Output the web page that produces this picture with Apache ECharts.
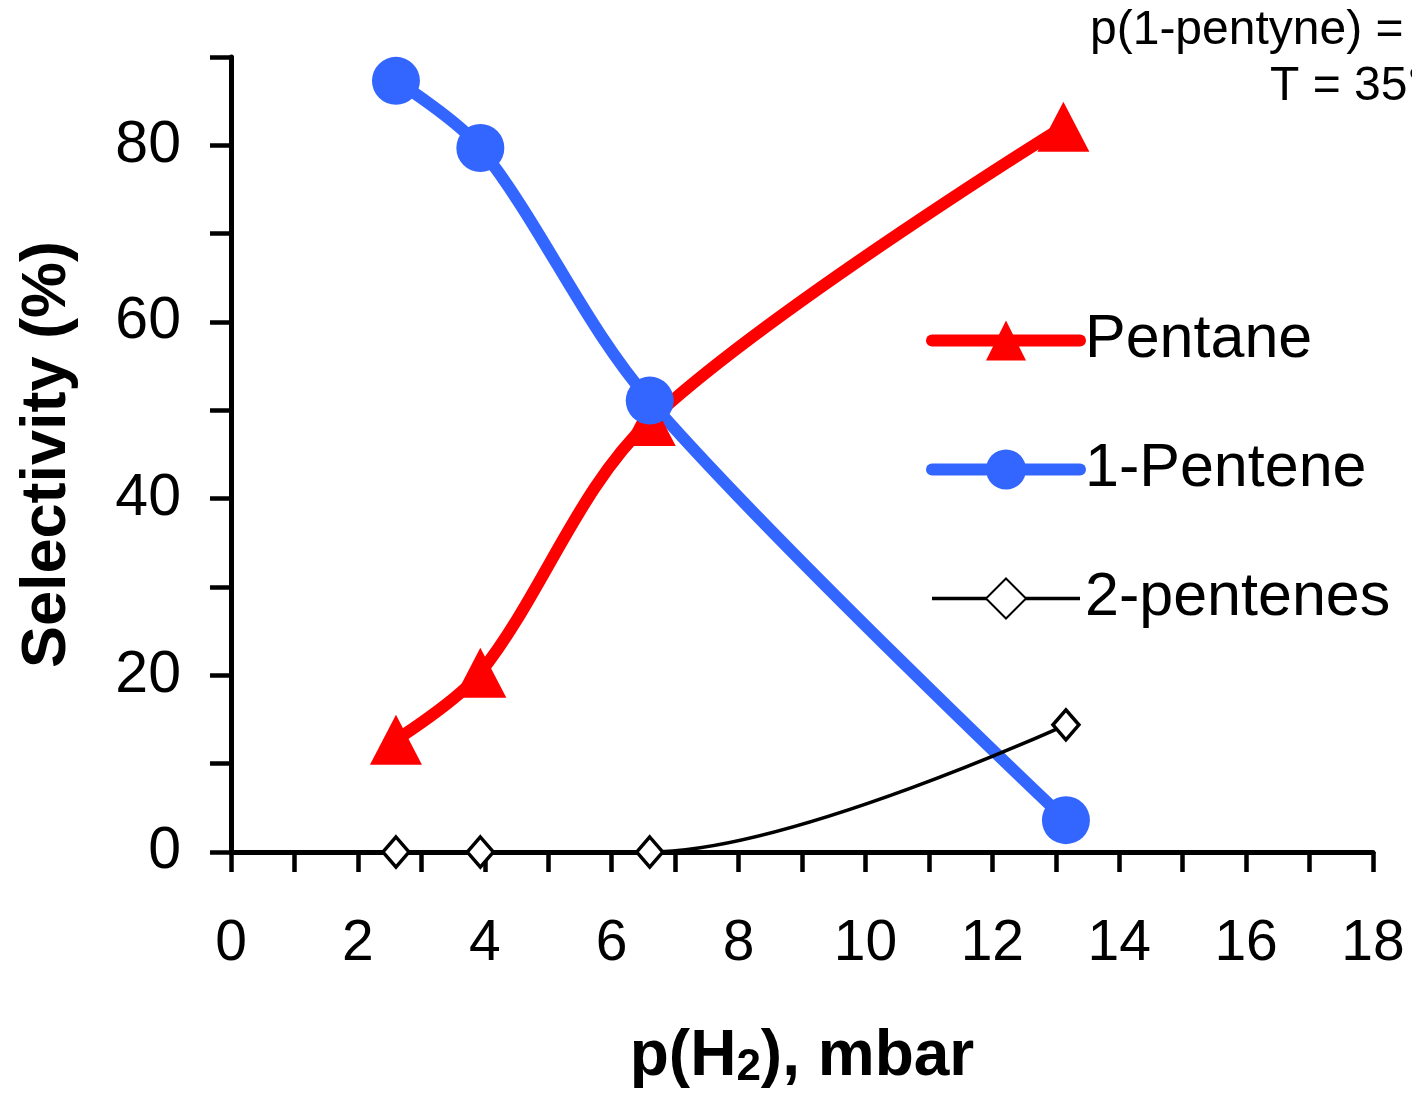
<!DOCTYPE html>
<html>
<head>
<meta charset="utf-8">
<script src="https://cdn.jsdelivr.net/npm/echarts@6/dist/echarts.min.js"></script>
<style>html,body{margin:0;padding:0;background:#fff;}#c{width:1412px;height:1096px;}</style>
</head>
<body>
<div id="c"></div>
<script>
// ---- data ----
const pH2_pentane = [2.6, 3.93, 6.6, 13.12];
const pentane = [12.7, 20.3, 48.8, 82.1];
const pH2_pentene = [2.6, 3.93, 6.6, 13.16];
const pentene1 = [87.3, 79.7, 51.1, 3.6];
const pH2_2pentenes = [2.6, 3.93, 6.6, 13.16];
const pentenes2 = [0, 0, 0, 14.4];
const seriesNames = ['Pentane', '1-Pentene', '2-pentenes'];
const xTickLabels = [0, 2, 4, 6, 8, 10, 12, 14, 16, 18];
const yTickLabels = [0, 20, 40, 60, 80];
const noteLines = ['p(1-pentyne) =', 'T = 35°'];

const FONT = '"Liberation Sans", Arial, sans-serif';
const pairs = (xs, ys) => xs.map((x, i) => [x, ys[i]]);

const chart = echarts.init(document.getElementById('c'), null, {renderer: 'canvas'});
chart.setOption({
  backgroundColor: '#ffffff',
  animation: false,
  grid: {left: 231, right: 39, top: 57, bottom: 244, containLabel: false},
  xAxis: {
    type: 'value', min: 0, max: 18, interval: 1,
    name: '{b|p(H}{s|2}{b|), mbar}',
    nameLocation: 'middle', nameGap: 172,
    nameTextStyle: {
      rich: {
        b: {fontFamily: FONT, fontSize: 64, fontWeight: 'bold', color: '#000', lineHeight: 66},
        s: {fontFamily: FONT, fontSize: 44, fontWeight: 'bold', color: '#000', verticalAlign: 'bottom', lineHeight: 44, padding: [28, 0, 0, 0]}
      }
    },
    axisLine: {show: true, onZero: false, lineStyle: {color: '#000', width: 5}},
    axisTick: {show: true, inside: false, length: 20, lineStyle: {color: '#000', width: 4.5}},
    axisLabel: {
      margin: 64, fontFamily: FONT, fontSize: 57, color: '#000',
      formatter: v => (xTickLabels.indexOf(v) >= 0 ? String(v) : '')
    },
    splitLine: {show: false}
  },
  yAxis: {
    type: 'value', min: 0, max: 90, interval: 10,
    name: 'Selectivity (%)',
    nameLocation: 'middle', nameGap: 152,
    nameTextStyle: {fontFamily: FONT, fontSize: 63, fontWeight: 'bold', color: '#000'},
    axisLine: {show: true, onZero: false, lineStyle: {color: '#000', width: 5}},
    axisTick: {show: true, inside: false, length: 21, lineStyle: {color: '#000', width: 4.5}},
    axisLabel: {
      margin: 50, fontFamily: FONT, fontSize: 59, color: '#000',
      formatter: v => (yTickLabels.indexOf(v) >= 0 ? String(v) : '')
    },
    splitLine: {show: false}
  },
  legend: {
    orient: 'vertical', left: 921, top: 305, align: 'left',
    itemWidth: 148, itemHeight: 50, itemGap: 68,
    textStyle: {fontFamily: FONT, fontSize: 61, color: '#000'},
    data: [
      {name: seriesNames[0], lineStyle: {width: 12, color: '#ff0000'}},
      {name: seriesNames[1], lineStyle: {width: 12, color: '#3366ff'}},
      {name: seriesNames[2], lineStyle: {width: 3.5, color: '#000'}}
    ]
  },
  series: [
    {
      name: seriesNames[0], type: 'line', smooth: 0.33, clip: false,
      data: pairs(pH2_pentane, pentane),
      symbol: 'triangle', symbolSize: [52, 50],
      lineStyle: {color: '#ff0000', width: 12, cap: 'round', join: 'round'},
      itemStyle: {color: '#ff0000', borderWidth: 0}
    },
    {
      name: seriesNames[1], type: 'line', smooth: 0.33, clip: false,
      data: pairs(pH2_pentene, pentene1),
      symbol: 'circle', symbolSize: 48,
      lineStyle: {color: '#3366ff', width: 12, cap: 'round', join: 'round'},
      itemStyle: {color: '#3366ff', borderWidth: 0}
    },
    {
      name: seriesNames[2], type: 'line', smooth: 0.33, clip: false,
      data: pairs(pH2_2pentenes, pentenes2),
      symbol: 'diamond', symbolSize: [26, 30],
      lineStyle: {color: '#000', width: 3.5},
      itemStyle: {color: '#ffffff', borderColor: '#000', borderWidth: 3.5}
    }
  ],
  graphic: [
    {type: 'text', left: 1090, top: 7, style: {text: noteLines[0], font: '48px ' + FONT, fill: '#000'}},
    {type: 'text', left: 1270, top: 63, style: {text: noteLines[1], font: '48px ' + FONT, fill: '#000'}}
  ]
});
</script>
</body>
</html>
